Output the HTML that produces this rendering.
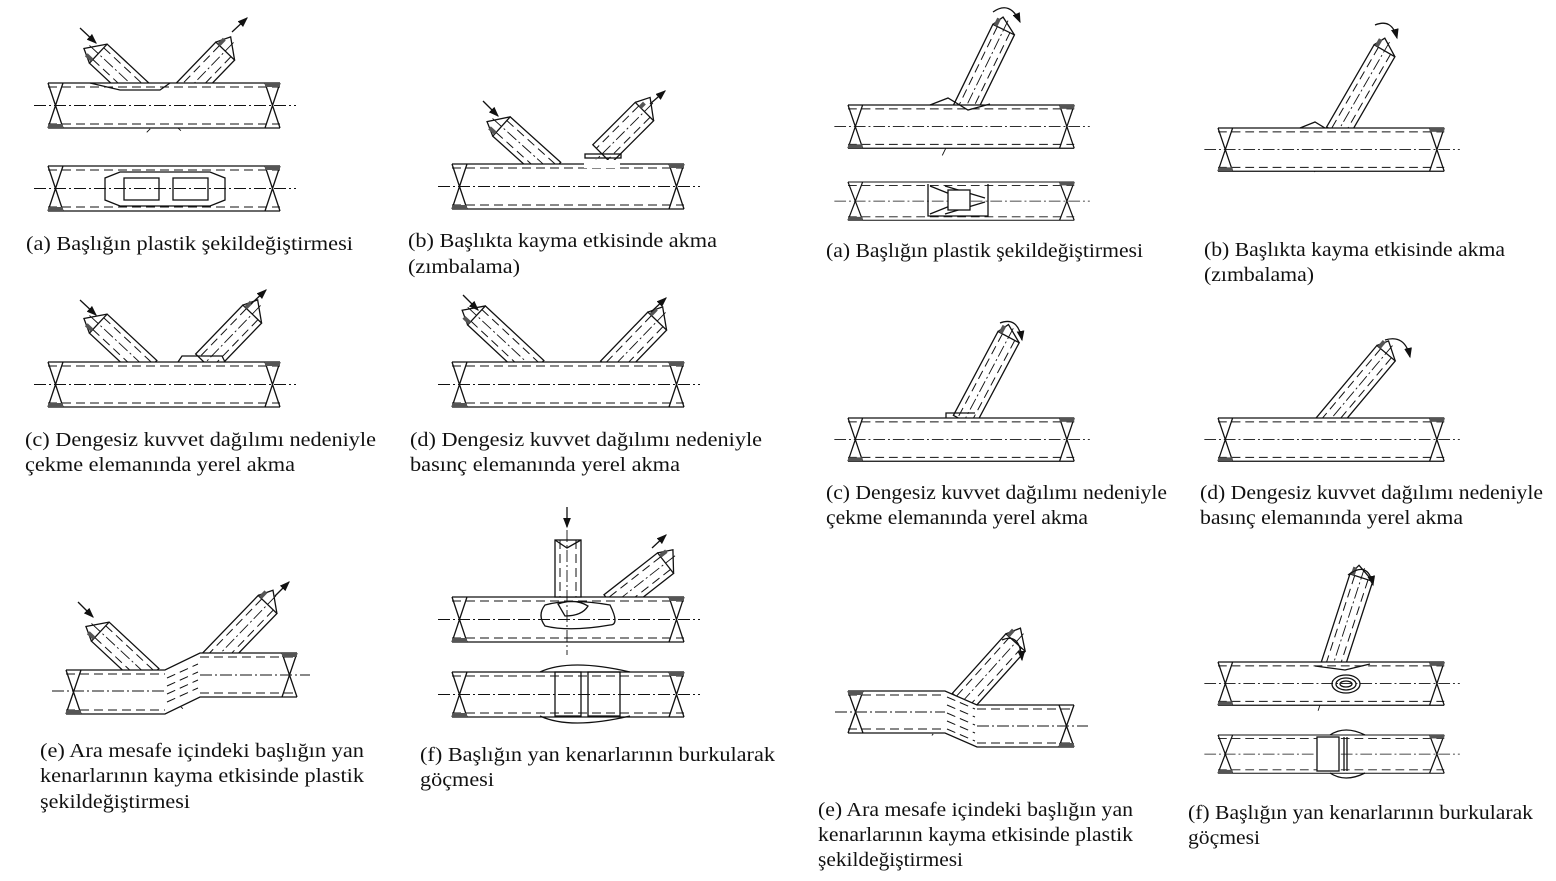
<!DOCTYPE html>
<html><head><meta charset="utf-8"><style>
html,body{margin:0;padding:0;background:#fff}
svg{display:block}
text{font-family:"Liberation Serif","Times New Roman",serif;font-size:20px;fill:#111}
.l{stroke:#111;stroke-width:1.3;fill:none}
.d{stroke:#111;stroke-width:1;fill:none;stroke-dasharray:9 5}
.c{stroke:#111;stroke-width:0.9;fill:none;stroke-dasharray:12 3 2 3}
.h{fill:#555}
.f{fill:#fff;stroke:#111;stroke-width:1.3}
</style></head><body>
<svg width="1556" height="881" viewBox="0 0 1556 881" xmlns="http://www.w3.org/2000/svg">
<defs>
<g id="ch">
<rect x="0" y="0" width="232" height="45" fill="#fff"/>
<path class="l" d="M0 0H232M0 45H232M0 0L15 45M15 0L0 45M217 0L232 45M232 0L217 45"/>
<path class="d" d="M0 4H232M0 41H232"/>
<path class="c" d="M-14 22.5H248"/>
<rect class="h" x="217" y="0" width="15" height="4"/>
<rect class="h" x="0" y="41" width="15" height="4"/>
</g>
<g id="b60"><rect class="f" x="-13" y="-60" width="26" height="60"/><path class="d" d="M-8 -60V0M8 -60V0"/><path class="c" d="M0 -72V40"/><path class="l" d="M-13 -60L-6 -74L13 -60"/><rect class="h" x="-8" y="-66" width="4" height="6"/></g>
<g id="b70"><rect class="f" x="-13" y="-68" width="26" height="68"/><path class="d" d="M-8 -68V0M8 -68V0"/><path class="c" d="M0 -80V45"/><path class="l" d="M-13 -68L-6 -82L13 -68"/><rect class="h" x="-11" y="-76" width="4" height="8"/></g>
<g id="b80"><rect class="f" x="-13" y="-80" width="26" height="80"/><path class="d" d="M-8 -80V0M8 -80V0"/><path class="c" d="M0 -92V45"/><path class="l" d="M-13 -80L-6 -94L13 -80"/><rect class="h" x="-12" y="-88" width="4" height="8"/></g>
<g id="b95"><rect class="f" x="-12" y="-95" width="24" height="95"/><path class="d" d="M-7 -95V0M7 -95V0"/><path class="c" d="M0 -105V45"/><path class="l" d="M-12 -95L-6 -106L12 -95"/><rect class="h" x="-11" y="-103" width="4" height="8"/></g>
<marker id="ar" markerWidth="8" markerHeight="6" refX="7" refY="3" orient="auto"><path d="M0 0L8 3L0 6z" fill="#111"/></marker>
</defs>

<!-- LEFT (a) -->
<g transform="translate(148,100) rotate(-47)"><use href="#b70"/></g>
<g transform="translate(178,100) rotate(44)"><use href="#b70"/></g>
<use href="#ch" x="48" y="83"/>
<path class="l" d="M90 83L120 90H160L170 83"/>
<line x1="80" y1="28" x2="96" y2="43" class="l" stroke-width="2.5" marker-end="url(#ar)"/>
<line x1="232" y1="32" x2="247" y2="18" class="l" stroke-width="2.5" marker-end="url(#ar)"/>
<use href="#ch" x="48" y="166"/>
<path class="l" d="M120 172H210L225 178V200L210 206H120L105 200V178Z"/>
<rect class="l" x="124" y="178" width="35" height="22" stroke-width="2"/>
<rect class="l" x="173" y="178" width="35" height="22" stroke-width="2"/>
<text x="26" y="250" textLength="327" lengthAdjust="spacingAndGlyphs">(a) Başlığın plastik şekildeğiştirmesi</text>

<!-- LEFT (b) -->
<g transform="translate(552,172) rotate(-48)"><use href="#b70"/></g>
<g transform="translate(602,154) rotate(45)"><use href="#b60"/></g>
<use href="#ch" x="452" y="164"/>
<rect x="584" y="160" width="36" height="8" fill="#fff"/>
<rect class="l" x="585" y="154" width="36" height="4"/>
<line x1="483" y1="101" x2="498" y2="116" class="l" stroke-width="2.5" marker-end="url(#ar)"/>
<line x1="650" y1="104" x2="665" y2="91" class="l" stroke-width="2.5" marker-end="url(#ar)"/>
<text x="408" y="247" textLength="309" lengthAdjust="spacingAndGlyphs">(b) Başlıkta kayma etkisinde akma</text>
<text x="408" y="273" textLength="112" lengthAdjust="spacingAndGlyphs">(zımbalama)</text>

<!-- LEFT (c) -->
<g transform="translate(148,370) rotate(-47)"><use href="#b70"/></g>
<g transform="translate(205,363) rotate(44)"><use href="#b70"/></g>
<use href="#ch" x="48" y="362"/>
<path class="l" d="M178 362L182 356H222L225 362"/>
<line x1="80" y1="300" x2="96" y2="315" class="l" stroke-width="2.5" marker-end="url(#ar)"/>
<line x1="251" y1="304" x2="266" y2="290" class="l" stroke-width="2.5" marker-end="url(#ar)"/>
<text x="25" y="446" textLength="351" lengthAdjust="spacingAndGlyphs">(c) Dengesiz kuvvet dağılımı nedeniyle</text>
<text x="25" y="471" textLength="270" lengthAdjust="spacingAndGlyphs">çekme elemanında yerel akma</text>

<!-- LEFT (d) -->
<g transform="translate(535,370) rotate(-47)"><use href="#b80"/></g>
<g transform="translate(610,370) rotate(44)"><use href="#b70"/></g>
<use href="#ch" x="452" y="362"/>
<line x1="463" y1="295" x2="478" y2="310" class="l" stroke-width="2.5" marker-end="url(#ar)"/>
<line x1="651" y1="312" x2="666" y2="298" class="l" stroke-width="2.5" marker-end="url(#ar)"/>
<text x="410" y="446" textLength="352" lengthAdjust="spacingAndGlyphs">(d) Dengesiz kuvvet dağılımı nedeniyle</text>
<text x="410" y="471" textLength="270" lengthAdjust="spacingAndGlyphs">basınç elemanında yerel akma</text>

<!-- LEFT (e) -->
<g transform="translate(150,678) rotate(-47)"><use href="#b70"/></g>
<g transform="translate(212,662) rotate(44)"><use href="#b80"/></g>
<rect x="66" y="670" width="99" height="44" fill="#fff"/><rect x="200" y="653" width="97" height="44" fill="#fff"/><path d="M165 670L200 653V697L165 714Z" fill="#fff"/>
<path class="l" d="M66 670H165L200 653H297M66 714H165L200 697H297M66 670L81 714M81 670L66 714M282 653L297 697M297 653L282 697"/>
<path class="d" d="M66 674H165M66 710H165M200 657H297M200 693H297M167 678L198 664M167 686L198 672M167 694L198 680M167 702L198 688"/>
<path class="c" d="M52 691H165M200 675H310"/>
<rect class="h" x="282" y="653" width="15" height="4"/><rect class="h" x="66" y="710" width="15" height="4"/>
<line x1="78" y1="602" x2="93" y2="617" class="l" stroke-width="2.5" marker-end="url(#ar)"/>
<line x1="275" y1="596" x2="289" y2="582" class="l" stroke-width="2.5" marker-end="url(#ar)"/>
<text x="40" y="757" textLength="324" lengthAdjust="spacingAndGlyphs">(e) Ara mesafe içindeki başlığın yan</text>
<text x="40" y="782" textLength="324" lengthAdjust="spacingAndGlyphs">kenarlarının kayma etkisinde plastik</text>
<text x="40" y="808" textLength="150" lengthAdjust="spacingAndGlyphs">şekildeğiştirmesi</text>

<!-- LEFT (f) -->
<g transform="translate(612,605) rotate(52)"><use href="#b70"/></g>
<use href="#ch" x="452" y="597"/>
<rect class="f" x="555" y="540" width="26" height="57"/>
<path class="d" d="M560 540V597M576 540V597"/>
<path class="l" d="M555 540L567 548L581 540"/>
<path class="c" d="M567 530V655"/>
<line x1="567" y1="507" x2="567" y2="527" class="l" stroke-width="2" marker-end="url(#ar)"/>
<path class="l" d="M545 605Q570 598 610 605Q620 625 610 625Q570 632 545 626Q537 615 545 605ZM558 604Q575 598 588 606Q582 616 565 616Z"/>
<line x1="652" y1="548" x2="666" y2="535" class="l" stroke-width="2.5" marker-end="url(#ar)"/>
<use href="#ch" x="452" y="672"/>
<path class="l" d="M540 672Q570 658 630 672M540 716Q570 730 630 716"/>
<rect class="l" x="555" y="672" width="26" height="44" stroke-width="3"/>
<rect class="l" x="588" y="672" width="32" height="44" stroke-width="3"/>
<text x="420" y="761" textLength="355" lengthAdjust="spacingAndGlyphs">(f) Başlığın yan kenarlarının burkularak</text>
<text x="420" y="786" textLength="74" lengthAdjust="spacingAndGlyphs">göçmesi</text>

<!-- RIGHT (a) -->
<g transform="translate(962,115) rotate(26)"><use href="#b95"/></g>
<use href="#ch" x="848" y="105" transform="translate(848,105) scale(0.975,0.96) translate(-848,-105)"/>
<path class="l" d="M930 105L948 98L968 110L990 104"/>
<path class="l" d="M993 12Q1010 0 1020 22" marker-end="url(#ar)"/>
<use href="#ch" x="848" y="182" transform="translate(848,182) scale(0.975,0.85) translate(-848,-182)"/>
<path class="l" d="M928 184V216H988V184M945 186L985 198M945 214L985 202M930 186L965 200M930 214L965 200"/>
<rect class="f" x="948" y="190" width="22" height="20" stroke-width="2.5"/>
<text x="826" y="257" textLength="317" lengthAdjust="spacingAndGlyphs">(a) Başlığın plastik şekildeğiştirmesi</text>

<!-- RIGHT (b) -->
<g transform="translate(1337,133) rotate(30)"><use href="#b95"/></g>
<use href="#ch" x="1218" y="128" transform="translate(1218,128) scale(0.975,0.96) translate(-1218,-128)"/>
<path class="l" d="M1300 128L1315 122L1325 128"/>
<path class="l" d="M1375 25Q1392 18 1397 38" marker-end="url(#ar)"/>
<text x="1204" y="256" textLength="301" lengthAdjust="spacingAndGlyphs">(b) Başlıkta kayma etkisinde akma</text>
<text x="1204" y="281" textLength="110" lengthAdjust="spacingAndGlyphs">(zımbalama)</text>

<!-- RIGHT (c) -->
<g transform="translate(964,421) rotate(28)"><use href="#b95"/></g>
<use href="#ch" x="848" y="418" transform="translate(848,418) scale(0.975,0.96) translate(-848,-418)"/>
<path class="l" d="M946 418V413H975"/>
<path class="l" d="M1000 323Q1018 316 1022 340" marker-end="url(#ar)"/>
<text x="826" y="499" textLength="341" lengthAdjust="spacingAndGlyphs">(c) Dengesiz kuvvet dağılımı nedeniyle</text>
<text x="826" y="524" textLength="262" lengthAdjust="spacingAndGlyphs">çekme elemanında yerel akma</text>

<!-- RIGHT (d) -->
<g transform="translate(1325,426) rotate(40)"><use href="#b95"/></g>
<use href="#ch" x="1218" y="418" transform="translate(1218,418) scale(0.975,0.96) translate(-1218,-418)"/>
<path class="l" d="M1385 340Q1405 334 1410 357" marker-end="url(#ar)"/>
<text x="1200" y="499" textLength="343" lengthAdjust="spacingAndGlyphs">(d) Dengesiz kuvvet dağılımı nedeniyle</text>
<text x="1200" y="524" textLength="263" lengthAdjust="spacingAndGlyphs">basınç elemanında yerel akma</text>

<!-- RIGHT (e) -->
<g transform="translate(962,702) rotate(42)"><use href="#b80"/></g>
<rect x="848" y="691" width="97" height="42" fill="#fff"/><rect x="977" y="705" width="97" height="42" fill="#fff"/><path d="M945 691L977 705V747L945 733Z" fill="#fff"/>
<path class="l" d="M848 691H945L977 705H1074M848 733H945L977 747H1074M848 691L863 733M863 691L848 733M1059 705L1074 747M1074 705L1059 747"/>
<path class="d" d="M848 695H945M848 729H945M977 709H1074M977 743H1074M947 697L975 709M947 705L975 717M947 713L975 725M947 721L975 733M947 729L975 741"/>
<path class="c" d="M835 712H945M977 726H1088"/>
<rect class="h" x="848" y="691" width="15" height="4"/><rect class="h" x="1059" y="743" width="15" height="4"/>
<path class="l" d="M1002 640Q1020 632 1022 660" marker-end="url(#ar)"/>
<text x="818" y="816" textLength="315" lengthAdjust="spacingAndGlyphs">(e) Ara mesafe içindeki başlığın yan</text>
<text x="818" y="841" textLength="315" lengthAdjust="spacingAndGlyphs">kenarlarının kayma etkisinde plastik</text>
<text x="818" y="866" textLength="145" lengthAdjust="spacingAndGlyphs">şekildeğiştirmesi</text>

<!-- RIGHT (f) -->
<g transform="translate(1332,668) rotate(18)"><use href="#b95"/></g>
<use href="#ch" x="1218" y="662" transform="translate(1218,662) scale(0.975,0.96) translate(-1218,-662)"/>
<path class="l" d="M1315 666L1345 670L1370 664"/>
<ellipse class="l" cx="1346" cy="684" rx="6" ry="3"/><ellipse class="l" cx="1346" cy="684" rx="10" ry="6"/><ellipse class="l" cx="1346" cy="684" rx="14" ry="9"/>
<path class="l" d="M1348 575Q1368 560 1373 585" marker-end="url(#ar)"/>
<use href="#ch" x="1218" y="735" transform="translate(1218,735) scale(0.975,0.85) translate(-1218,-735)"/>
<path class="l" d="M1330 735Q1345 725 1365 735M1330 773Q1345 783 1365 773"/>
<rect class="f" x="1317" y="737" width="22" height="34" stroke-width="2.5"/>
<path class="l" d="M1344 737V771M1347 737V771"/>
<text x="1188" y="819" textLength="345" lengthAdjust="spacingAndGlyphs">(f) Başlığın yan kenarlarının burkularak</text>
<text x="1188" y="844" textLength="72" lengthAdjust="spacingAndGlyphs">göçmesi</text>
</svg>
</body></html>
